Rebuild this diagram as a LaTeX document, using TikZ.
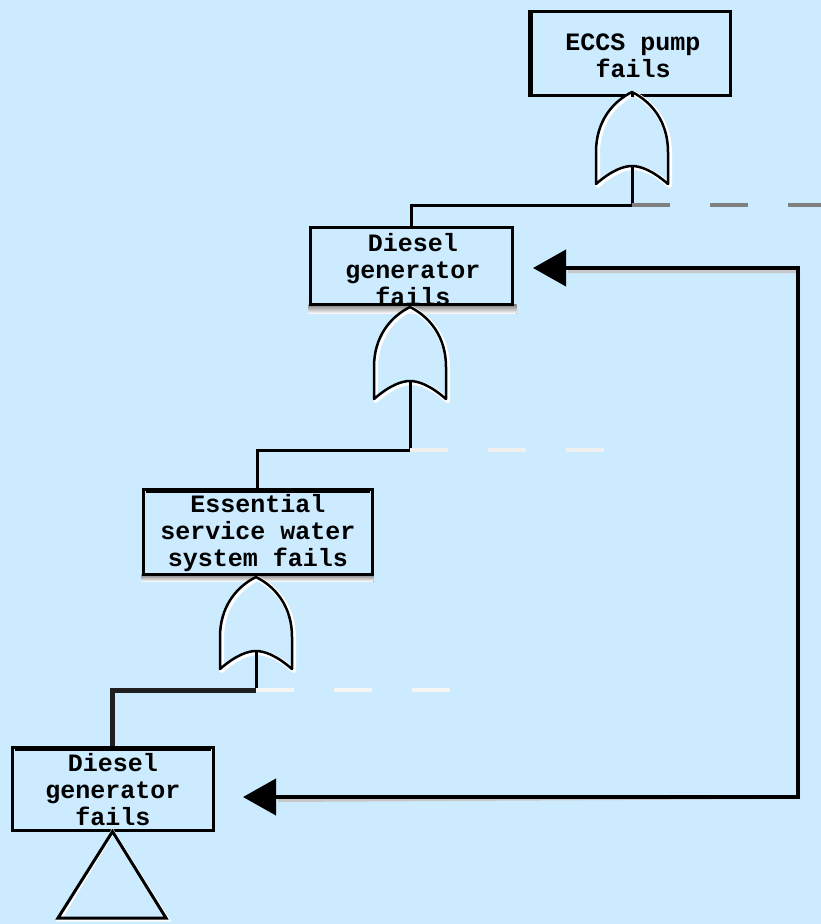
\documentclass[tikz,border=0pt]{standalone}
\usepackage{fontspec}
\setmonofont{Liberation Mono}
\usetikzlibrary{arrows.meta,calc}
\definecolor{bgblue}{HTML}{CCEBFF}
\definecolor{shade}{HTML}{A4A4A4}
\tikzset{
  event/.style={draw=black, line width=3pt, minimum width=#1, inner sep=0pt},
  label/.style={font=\ttfamily\bfseries\fontsize{25}{27}\selectfont, align=center},
  wire/.style={draw=black, line width=3pt},
  gateline/.style={draw=black, line width=2.5pt, line join=round},
  halo/.style={draw=white, line width=5pt, line join=round},
  stub/.style={line width=4pt, dash pattern=on 38pt off 40pt},
  orgate/.pic={
    \path[halo, shift={(1.5,1.5)}] (0,0) .. controls (-20,10) and (-36,30) .. (-36,60) -- (-36,92)
      .. controls (-20,78) and (-8,74) .. (0,74) .. controls (8,74) and (20,78) .. (36,92)
      -- (36,60) .. controls (36,30) and (20,10) .. (0,0) -- cycle;
    \path[gateline] (0,0) .. controls (-20,10) and (-36,30) .. (-36,60) -- (-36,92)
      .. controls (-20,78) and (-8,74) .. (0,74) .. controls (8,74) and (20,78) .. (36,92)
      -- (36,60) .. controls (36,30) and (20,10) .. (0,0) -- cycle;
  }
}
\begin{document}
\begin{tikzpicture}[x=1pt,y=-1pt]
  % canvas
  \fill[bgblue] (0,0) rectangle (821,924);
  \useasboundingbox (0,0) rectangle (821,924);

  % event boxes
  \node[event=201pt, minimum height=84pt] (b1) at (629.5,53) {};
  \node[event=202pt, minimum height=78pt] (b2) at (411,266) {};
  \node[event=229pt, minimum height=86pt] (b3) at (257.5,532) {};
  \node[event=201pt, minimum height=83pt] (b4) at (112.5,788.5) {};
  % gray inner edges
  \draw[shade, line width=2pt] ($(b1.north west)+(4,2)$) -- ($(b1.south west)+(4,-2)$);
  \draw[shade, line width=2pt] ($(b3.north west)+(4,4)$) -- ($(b3.north east)+(-4,4)$);
  \draw[shade, line width=2pt] ($(b4.north west)+(4,4)$) -- ($(b4.north east)+(-4,4)$);
  \node[label] (t1) at (633,56) {ECCS pump\\fails};
  \node[label] (t2) at (413,270) {Diesel\\generator\\fails};
  \node[label] (t3) at (258,533) {Essential\\service water\\system fails};
  \node[label] (t4) at (113,790) {Diesel\\generator\\fails};
  % box borders drawn again over the overflowing last lines, with a gray band beneath
  \fill[shade] ($(b2.south west)+(0,-2)$) rectangle ($(b2.south east)+(3,7)$);
  \draw[line width=3pt] ($(b2.south west)+(0,-2)$) -- ($(b2.south east)+(0,-2)$);
  \fill[shade] ($(b3.south west)+(0,-2)$) rectangle ($(b3.south east)+(0,5)$);
  \draw[line width=3pt] ($(b3.south west)+(0,-2)$) -- ($(b3.south east)+(0,-2)$);

  % OR gates
  \pic (g1) at (632,92) {orgate};
  \pic (g2) at (410,307) {orgate};
  \pic (g3) at (256,577) {orgate};
  \coordinate (g1in) at (632,166);
  \coordinate (g2in) at (410,381);
  \coordinate (g3in) at (256,651);
  \coordinate (g1top) at (632,92);
  \coordinate (g2top) at (410,307);
  \coordinate (g3top) at (256,577);
  \draw[wire] (b1.south -| g1top) -- (g1top);
  \draw[wire] (b2.south -| g2top) -- (g2top);
  \draw[wire] (b3.south -| g3top) -- (g3top);

  % gate inputs: one branch drawn, the others left as dashed stubs
  \coordinate (j1) at (632,205);
  \coordinate (j2) at (410,450);
  \coordinate (j3) at (256,690);
  \draw[wire] (g1in) -- (j1) -| (b2.north);
  \draw[wire] (g2in) -- (j2) -| (b3.north);
  \draw[wire] (g3in) -- (j3);
  \draw[black!88, line width=5pt] (j3) -| (b4.north);
  \coordinate (s1) at (821,205);
  \coordinate (s2) at (610,450);
  \coordinate (s3) at (460,690);
  \draw[stub, draw=gray] (j1) -- (s1);
  \draw[stub, draw=white!88!gray] (j2) -- (s2);
  \draw[stub, draw=white!92!gray] (j3) -- (s3);

  % undeveloped-event triangle
  \draw[white, line width=4pt, line join=miter, shift={(1.5,1.5)}] (b4.south) -- (166,918) -- (58,918) -- cycle;
  \draw[line width=3pt, line join=miter] (b4.south) -- (166,918) -- (58,918) -- cycle;

  % transfer loop between the two diesel generator events
  \coordinate (tipA) at (533,268);
  \coordinate (tipB) at (243,797);
  \coordinate (rail) at (798,797);
  \draw[line width=4pt, draw=black!22, shift={(2,3)}] (566,268) -| (rail) -- (276,797);
  \draw[line width=4pt, {Triangle[length=33pt,width=36pt]}-{Triangle[length=33pt,width=36pt]}]
    (tipA) -| (rail) -- (tipB);
\end{tikzpicture}
\end{document}
